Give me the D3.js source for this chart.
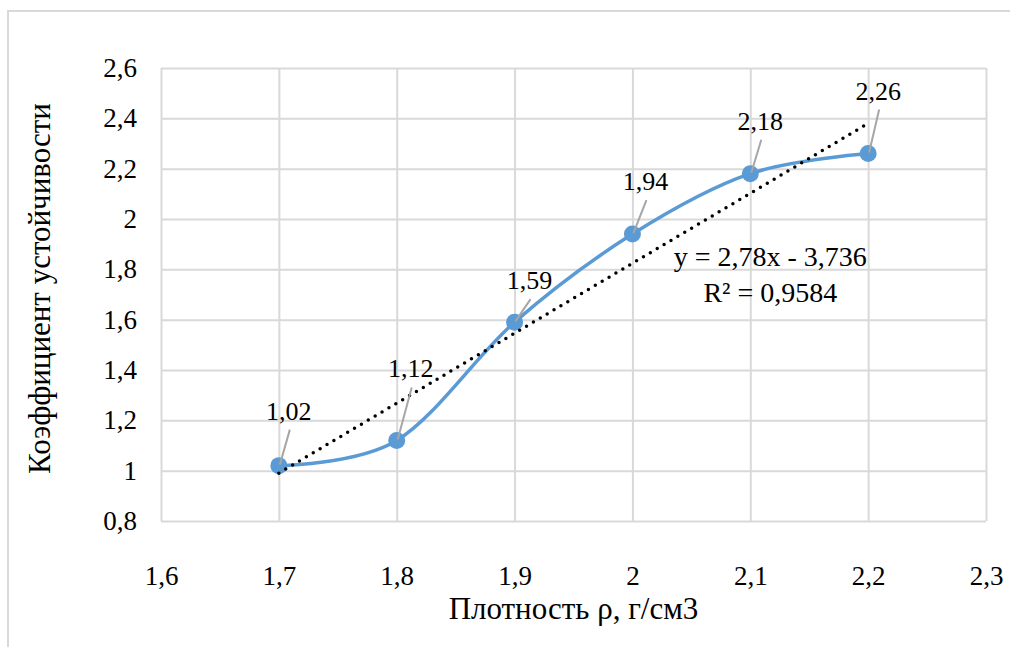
<!DOCTYPE html>
<html>
<head>
<meta charset="utf-8">
<script src="https://cdn.jsdelivr.net/npm/d3@7"></script>
<style>
  html, body { margin: 0; padding: 0; background: #fff; }
  svg { display: block; }
  svg text { font-family: "Liberation Serif", "Times New Roman", Times, "DejaVu Serif", serif; }
</style>
</head>
<body>
<div class="container"></div>
<script>
// данные
const density = [1.7, 1.8, 1.9, 2.0, 2.1, 2.2];
const stability = [1.02, 1.12, 1.59, 1.94, 2.18, 2.26];
const xTicks = [1.6, 1.7, 1.8, 1.9, 2.0, 2.1, 2.2, 2.3];
const yTicks = [0.8, 1.0, 1.2, 1.4, 1.6, 1.8, 2.0, 2.2, 2.4, 2.6];
// линия тренда y = a*x + b
const trendA = 2.78;
const trendB = -3.736;
const trendR2 = 0.9584;

// смещения подписей (в пикселях) относительно точек
const labelShift = [[10, -46], [14, -63], [15, -33], [13, -44], [10, -44], [10, -54]];

const W = 1010, H = 647;
const margin = { top: 68, right: 24, bottom: 126, left: 161 };
const width = W - margin.left - margin.right;
const height = H - margin.top - margin.bottom;

const ru = d3.formatLocale({ decimal: ",", thousands: " ", grouping: [3], currency: ["", ""] });
const fmtTick = ru.format(".1~f");
const fmtLabel = ru.format(".2f");

const svg = d3.select(".container")
  .append("svg")
  .attr("width", W)
  .attr("height", H);

// рамка диаграммы
svg.append("rect")
  .attr("x", 8).attr("y", 11)
  .attr("width", W + 10).attr("height", H + 10)
  .attr("fill", "none")
  .attr("stroke", "#d9d9d9")
  .attr("stroke-width", 2);

const g = svg.append("g").attr("transform", `translate(${margin.left},${margin.top})`);

const x = d3.scaleLinear().domain([1.6, 2.3]).range([0, width]);
const y = d3.scaleLinear().domain([0.8, 2.6]).range([height, 0]);

// сетка + ось Y
g.append("g")
  .call(d3.axisLeft(y).tickValues(yTicks).tickFormat(fmtTick).tickSize(0).tickPadding(24))
  .attr("font-family", null)
  .call(a => a.select(".domain").remove())
  .call(a => a.selectAll(".tick line").attr("x2", width).attr("stroke", "#d9d9d9").attr("stroke-width", 2))
  .call(a => a.selectAll(".tick text")
    .attr("fill", "#000")
    .style("font-size", "27px"));

// сетка + ось X
g.append("g")
  .attr("transform", `translate(0,${height})`)
  .call(d3.axisBottom(x).tickValues(xTicks).tickFormat(fmtTick).tickSize(0).tickPadding(45))
  .attr("font-family", null)
  .call(a => a.select(".domain").remove())
  .call(a => a.selectAll(".tick line").attr("y2", -height).attr("stroke", "#d9d9d9").attr("stroke-width", 2))
  .call(a => a.selectAll(".tick text")
    .attr("fill", "#000")
    .style("font-size", "27px"));

// подписи осей
g.append("text")
  .attr("x", width / 2)
  .attr("y", height + 98)
  .attr("text-anchor", "middle")
  .style("font-size", "31px")
  .text("Плотность ρ, г/см3");

g.append("text")
  .attr("transform", `translate(${-111},${height / 2 - 6}) rotate(-90)`)
  .attr("text-anchor", "middle")
  .style("font-size", "31px")
  .text("Коэффициент устойчивости");

const points = density.map((d, i) => ({ x: d, y: stability[i] }));

// сглаженная линия
const line = d3.line()
  .x(d => x(d.x))
  .y(d => y(d.y))
  .curve(d3.curveCardinal.tension(0));

g.append("path")
  .datum(points)
  .attr("d", line)
  .attr("fill", "none")
  .attr("stroke", "#5b9bd5")
  .attr("stroke-width", 3.5)
  .attr("stroke-linecap", "round");

// маркеры
g.selectAll(".dot")
  .data(points)
  .enter()
  .append("circle")
  .attr("class", "dot")
  .attr("cx", d => x(d.x))
  .attr("cy", d => y(d.y))
  .attr("r", 8.5)
  .attr("fill", "#5b9bd5");

// линия тренда (точечная)
const x0 = d3.min(density), x1 = d3.max(density);
g.append("line")
  .attr("x1", x(x0)).attr("y1", y(trendA * x0 + trendB))
  .attr("x2", x(x1)).attr("y2", y(trendA * x1 + trendB))
  .attr("stroke", "#000")
  .attr("stroke-width", 3.5)
  .attr("stroke-linecap", "round")
  .attr("stroke-dasharray", "0 8");

// выноски и подписи значений
points.forEach((d, i) => {
  const px = x(d.x), py = y(d.y);
  const lx = px + labelShift[i][0], ly = py + labelShift[i][1];
  g.append("line")
    .attr("x1", lx + 1).attr("y1", ly + 10)
    .attr("x2", px + 1).attr("y2", py - 1)
    .attr("stroke", "#a6a6a6")
    .attr("stroke-width", 2);
  g.append("text")
    .attr("x", lx)
    .attr("y", ly)
    .attr("text-anchor", "middle")
    .style("font-size", "26px")
    .text(fmtLabel(d.y));
});

// уравнение тренда
const eq = g.append("text")
  .attr("text-anchor", "middle")
  .style("font-size", "28px");
eq.append("tspan")
  .attr("x", x(2.117)).attr("y", y(1.815))
  .text(`y = ${ru.format(".2f")(trendA)}x - ${ru.format(".3f")(-trendB)}`);
eq.append("tspan")
  .attr("x", x(2.117)).attr("dy", 36)
  .text(`R² = ${ru.format(".4f")(trendR2)}`);
</script>
</body>
</html>
